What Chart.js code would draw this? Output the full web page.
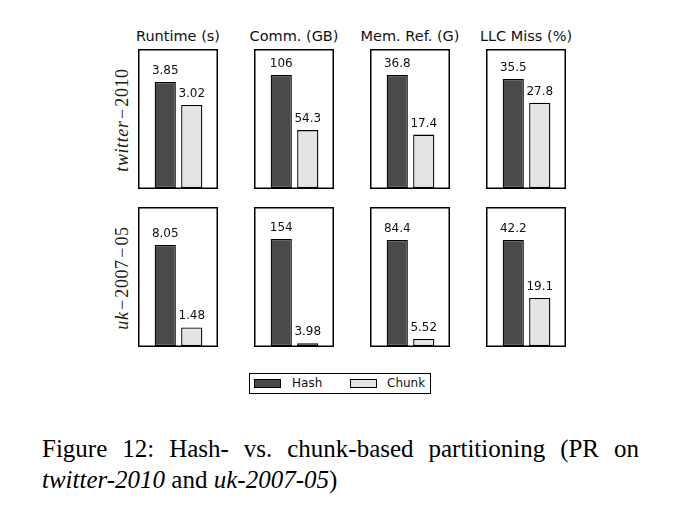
<!DOCTYPE html>
<html>
<head>
<meta charset="utf-8">
<script src="https://cdn.jsdelivr.net/npm/chart.js@4.4.1/dist/chart.umd.min.js"></script>
<style>
  body { margin: 0; background: #fff; }
  #fig { position: relative; width: 686px; height: 520px; background: #fff; overflow: hidden; }
  .panel { position: absolute; }
  .title { position: absolute; font-family: "DejaVu Sans", sans-serif; font-size: 14.5px; color: #111; text-align: center; width: 120px; white-space: nowrap; }
  .rowlab { position: absolute; font-family: "Liberation Serif", serif; font-size: 18px; letter-spacing: 0.6px; color: #1a1a1a; white-space: nowrap; transform: translate(-50%, -50%) rotate(-90deg); }
  .rowlab .mn { margin: 0 1.5px; }
  #legend { position: absolute; left: 249px; top: 373px; width: 182px; height: 21px; border: 1px solid #000; box-sizing: border-box; font-family: "DejaVu Sans", sans-serif; font-size: 12px; color: #111; }
  .sw { position: absolute; top: 5px; width: 27px; height: 9px; border: 1px solid #000; box-sizing: border-box; }
  .lt { position: absolute; top: 2px; }
  #caption { position: absolute; left: 42px; top: 433px; width: 597px; font-family: "Liberation Serif", serif; font-size: 25px; line-height: 31px; color: #000; text-align: justify; text-align-last: left; }
  #caption i { white-space: nowrap; }
</style>
</head>
<body>
<div id="fig">
  <div id="legend"></div>
  <div id="caption">Figure 12: Hash- vs. chunk-based partitioning (PR on <i>twitter-2010</i> and <i>uk-2007-05</i>)</div>
</div>
<script>
// metrics (columns) and graphs (rows)
var metrics = ["Runtime (s)", "Comm. (GB)", "Mem. Ref. (G)", "LLC Miss (%)"];
var graphs = ["twitter", "uk"];
var graphSuffix = [["2010"], ["2007", "05"]];
var schemes = ["Hash", "Chunk"];

// values per row, one entry per metric
var hashTwitter = [3.85, 106, 36.8, 35.5];
var chunkTwitter = [3.02, 54.3, 17.4, 27.8];
var hashUk = [8.05, 154, 84.4, 42.2];
var chunkUk = [1.48, 3.98, 5.52, 19.1];

// y axis tops of each panel
var yMaxTwitter = [5.05, 130.4, 45.3, 45.3];
var yMaxUk = [11.08, 200, 110.7, 55.3];

var colors = ["#4a4a4a", "#e4e4e4"];

var fig = document.getElementById("fig");

// box round the whole panel + numbers over the bars
var panelDeco = {
  id: "panelDeco",
  afterDatasetsDraw: function(chart) {
    var ctx = chart.ctx;
    ctx.save();
    ctx.lineWidth = 1.5;
    ctx.strokeStyle = "#000";
    ctx.strokeRect(0.75, 0.75, chart.width - 1.5, chart.height - 1.5);
    ctx.font = "12px 'DejaVu Sans'";
    ctx.fillStyle = "#111";
    ctx.textAlign = "center";
    ctx.textBaseline = "alphabetic";
    var meta = chart.getDatasetMeta(0);
    meta.data.forEach(function(bar, i) {
      ctx.fillText(String(chart.data.datasets[0].data[i]), bar.x, bar.y - 8);
    });
    ctx.restore();
  }
};

function makePanel(left, top, hash, chunk, yMax) {
  var c = document.createElement("canvas");
  c.className = "panel";
  c.width = 80; c.height = 140;
  c.style.left = left + "px"; c.style.top = top + "px";
  fig.appendChild(c);
  new Chart(c.getContext("2d"), {
    type: "bar",
    data: {
      labels: schemes,
      datasets: [{
        data: [hash, chunk],
        backgroundColor: colors,
        borderColor: "#000",
        borderWidth: 1.3,
        borderSkipped: false,
        barPercentage: 0.8,
        categoryPercentage: 1.0
      }]
    },
    options: {
      responsive: false,
      animation: false,
      devicePixelRatio: 1,
      layout: { padding: { left: 14, right: 13, top: 0, bottom: 1 } },
      plugins: { legend: { display: false }, tooltip: { enabled: false } },
      scales: {
        x: { display: false, offset: true },
        y: { display: false, min: 0, max: yMax }
      }
    },
    plugins: [panelDeco]
  });
}

var rows = [
  { hash: hashTwitter, chunk: chunkTwitter, yMax: yMaxTwitter, top: 49 },
  { hash: hashUk, chunk: chunkUk, yMax: yMaxUk, top: 207 }
];

rows.forEach(function(r, ri) {
  for (var i = 0; i < metrics.length; i++) {
    makePanel(138 + i * 116, r.top, r.hash[i], r.chunk[i], r.yMax[i]);
  }
  var lab = document.createElement("div");
  lab.className = "rowlab";
  var html = "<i>" + graphs[ri] + "</i>";
  graphSuffix[ri].forEach(function(p) { html += "<span class='mn'>\u2212</span>" + p; });
  lab.innerHTML = html;
  lab.style.left = "122px";
  lab.style.top = (r.top + 71) + "px";
  fig.appendChild(lab);
});

metrics.forEach(function(m, i) {
  var t = document.createElement("div");
  t.className = "title";
  t.textContent = m;
  t.style.left = (138 + i * 116 + 40 - 60) + "px";
  t.style.top = "28px";
  fig.appendChild(t);
});

// legend
var leg = document.getElementById("legend");
var legX = [[4, 42], [100, 137]];
schemes.forEach(function(s, i) {
  var sw = document.createElement("div");
  sw.className = "sw";
  sw.style.left = legX[i][0] + "px";
  sw.style.background = colors[i];
  leg.appendChild(sw);
  var lt = document.createElement("div");
  lt.className = "lt";
  lt.style.left = legX[i][1] + "px";
  lt.textContent = s;
  leg.appendChild(lt);
});
</script>
</body>
</html>
